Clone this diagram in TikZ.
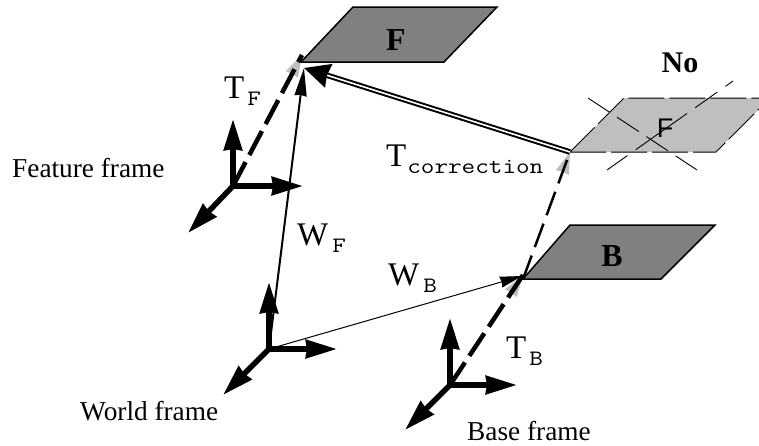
\documentclass[tikz,border=0pt]{standalone}
\usepackage{fontspec}
\setmainfont{Liberation Serif}
\setsansfont{Liberation Sans}
\newfontfamily\subfont[FakeStretch=1.2]{Latin Modern Mono}
\usetikzlibrary{arrows.meta,calc}
\definecolor{planedark}{gray}{0.5}
\definecolor{planelight}{gray}{0.75}

\newcommand{\tlabel}[3]{\fontsize{33}{36}\selectfont #1\hspace{#3}\raisebox{-7pt}{\subfont\fontsize{22}{24}\selectfont #2}}

\begin{document}
\begin{tikzpicture}[x=1pt, y=-1pt,
  axis/.style={line width=5.5pt, -{Stealth[length=31pt,width=18pt,inset=1pt]}},
  world/.style={line width=2pt, -{Stealth[length=28pt,width=12pt,inset=1pt]}},
  corr/.style={double=white, draw=black, line width=2pt, double distance=1.6pt, -{Stealth[length=26pt,width=25pt,inset=2pt,line width=0pt]}},
  dashT/.style={line width=4.5pt, dash pattern=on 27pt off 8pt},
  headT/.style={draw=planelight, fill=planelight, line width=0pt, -{Stealth[length=22pt,width=14pt,inset=1pt,fill=planelight]}},
  plane/.style={draw=black, fill=planedark, line width=1.5pt, line join=miter},
  ghost/.style={draw=black, fill=planelight, line width=1pt, dash pattern=on 36pt off 5pt},
  cross/.style={line width=0.9pt},
  framelabel/.style={font=\fontsize{27.3}{30}\selectfont, inner sep=0pt},
  planelabel/.style={font=\fontsize{32}{34}\selectfont\bfseries, inner sep=0pt},
  tf/.style={inner sep=0pt, anchor=base west}]

  \useasboundingbox (0,0) rectangle (759,445);

  % planes
  \coordinate (Fa) at (301,62);
  \coordinate (Fb) at (444,62);
  \coordinate (Fc) at (497,7);
  \coordinate (Fd) at (353,7);
  \coordinate (Na) at (570,152);
  \coordinate (Nb) at (716,152);
  \coordinate (Nc) at (770,98);
  \coordinate (Nd) at (624,98);
  \coordinate (Ba) at (523,279);
  \coordinate (Bb) at (661,279);
  \coordinate (Bc) at (715,225);
  \coordinate (Bd) at (570,225);

  \draw[plane] (Fa) -- (Fb) -- (Fc) -- (Fd) -- cycle;
  \draw[ghost] (Na) -- (Nb) -- (Nc) -- (Nd) -- cycle;
  \draw[plane] (Ba) -- (Bb) -- (Bc) -- (Bd) -- cycle;

  \node[planelabel] (Flabel) at (396,40) {F};
  \node[planelabel] (Blabel) at (612,256) {B};
  \node[font=\fontsize{27}{30}\selectfont\sffamily, inner sep=0pt] (Nlabel) at (665,128) {F};
  \node[font=\fontsize{30}{32}\selectfont\bfseries, inner sep=0pt] (No) at (680,63) {No};

  % crossed out
  \coordinate (Xa) at (588,98);
  \coordinate (Xb) at (697,170);
  \coordinate (Xc) at (607,170);
  \coordinate (Xd) at (733,81);
  \draw[cross, dash pattern=on 26pt off 9pt] (Xa) -- (Xb);
  \draw[cross, dash pattern=on 25pt off 10pt on 63pt off 10pt on 27pt off 10pt on 12pt off 5pt] (Xc) -- (Xd);

  % frames
  \coordinate (FO) at (233,186);
  \coordinate (Fx) at (303,186);
  \coordinate (Fy) at (233,119);
  \coordinate (Fz) at (188,233);
  \coordinate (WO) at (269,349);
  \coordinate (Wx) at (337,349);
  \coordinate (Wy) at (269,282);
  \coordinate (Wz) at (223,395);
  \coordinate (BO) at (450,385);
  \coordinate (Bx) at (517,385);
  \coordinate (By) at (450,318);
  \coordinate (Bz) at (405,430);
  \coordinate (Ftip) at (304,68);
  \coordinate (Btip) at (522,276);
  \coordinate (Ttip) at (302,55);
  \coordinate (Ctip) at (523,275);

  % grey heads under the dashes
  \draw[headT] ($(Ttip)!22pt!(FO)$) -- (Ttip);
  \draw[headT] ($(Ctip)!22pt!(BO)$) -- (Ctip);
  \draw[headT] ($(Na)!22pt!(Ba)$) -- (Na);

  \draw[dashT] (FO) -- (Ttip);
  \draw[dashT] (BO) -- (Ctip);
  \draw[line width=2.5pt, dash pattern=on 25pt off 9pt] (Ba) -- (Na);

  \draw[axis] (FO) -- (Fx);
  \draw[axis] (FO) -- (Fy);
  \draw[axis] (FO) -- (Fz);
  \draw[axis] (WO) -- (Wx);
  \draw[axis] (WO) -- (Wy);
  \draw[axis] (WO) -- (Wz);
  \draw[axis] (BO) -- (Bx);
  \draw[axis] (BO) -- (By);
  \draw[axis] (BO) -- (Bz);

  \draw[world] (WO) -- (Ftip);
  \draw[line width=1pt, -{Stealth[length=22pt,width=11pt,inset=1pt]}] (WO) -- (Btip);
  \draw[corr] (Na) -- (Ftip);

  \node[framelabel, anchor=west] (Ffeature) at (12,168) {Feature frame};
  \node[framelabel, anchor=west] (Fworld) at (80,411) {World frame};
  \node[framelabel, anchor=west] (Fbase) at (467,431) {Base frame};

  \node[tf] (TF) at (224,98) {\tlabel{T}{F}{3pt}};
  \node[tf] (TB) at (506,358) {\tlabel{T}{B}{3pt}};
  \node[tf] (WF) at (297,245) {\tlabel{W}{F}{4pt}};
  \node[tf] (WB) at (388,285) {\tlabel{W}{B}{4pt}};
  \node[tf] (Tc) at (386,166) {\tlabel{T}{correction}{1pt}};

\end{tikzpicture}
\end{document}
